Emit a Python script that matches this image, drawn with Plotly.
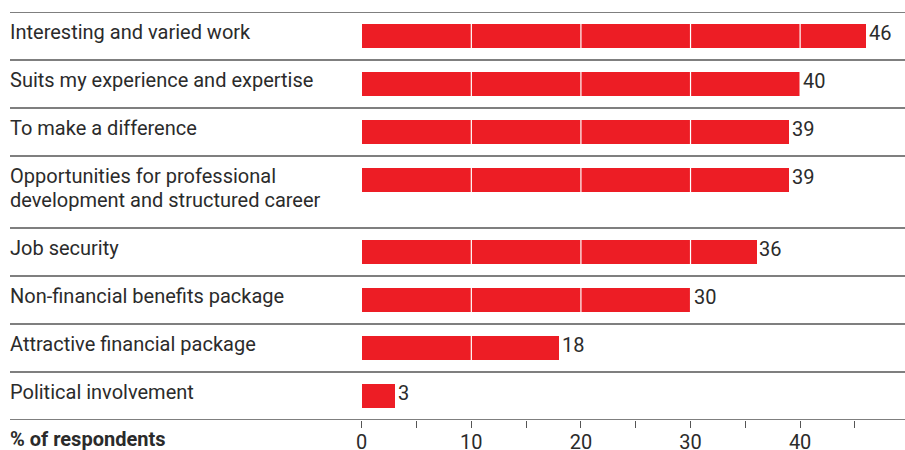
import plotly.graph_objects as go

# Survey answers, top to bottom
reasons = [
    "Interesting and varied work",
    "Suits my experience and expertise",
    "To make a difference",
    "Opportunities for professional<br>development and structured career",
    "Job security",
    "Non-financial benefits package",
    "Attractive financial package",
    "Political involvement",
]
percent = [46, 40, 39, 39, 36, 30, 18, 3]

tick_values = [0, 5, 10, 15, 20, 25, 30, 35, 40, 45]
tick_labels = ["0", "", "10", "", "20", "", "30", "", "40", ""]
grid_values = [10, 20, 30, 40]

RED = "#ed1d25"
INK = "#2b2b2b"
RULE = "#555555"
FONT = "Roboto"
SIZE = 20
LINE_STEP = 0.49  # spacing of wrapped label lines, in row units

# Row layout: each row is one unit tall, two-line labels get an extra half unit
row_tops = []
top = 0.0
for label in reasons:
    row_tops.append(top)
    top += 1.0 + 0.5 * label.count("<br>")
total_height = top
bar_centres = [t + 0.5 for t in row_tops]

fig = go.Figure()
fig.add_trace(go.Bar(
    x=percent,
    y=bar_centres,
    orientation="h",
    width=0.5,
    marker=dict(color=RED, line=dict(width=0)),
    hoverinfo="skip",
))

shapes = []
# white gridlines cutting through the bars
for g in grid_values:
    shapes.append(dict(type="line", xref="x", yref="paper", x0=g, x1=g, y0=0, y1=1,
                       line=dict(color="white", width=1.2), layer="above"))
# row separators running the full width
for t in row_tops + [total_height]:
    shapes.append(dict(type="line", xref="paper", yref="y", x0=0, x1=1, y0=t, y1=t,
                       line=dict(color=RULE, width=1.5), layer="above"))

annotations = []
for label, t in zip(reasons, row_tops):
    for i, line in enumerate(label.split("<br>")):
        annotations.append(dict(
            text=line, xref="paper", yref="y", x=0, y=t + 0.13 + i * LINE_STEP, xshift=-2,
            xanchor="left", yanchor="top", showarrow=False, align="left",
            font=dict(family=FONT, size=SIZE, color=INK),
        ))
# value labels just past the end of each bar
for v, c in zip(percent, bar_centres):
    annotations.append(dict(
        text=str(v), xref="x", yref="y", x=v, y=c - 0.06, xshift=1,
        xanchor="left", yanchor="middle", showarrow=False,
        font=dict(family=FONT, size=SIZE, color=INK),
    ))
annotations.append(dict(
    text="<b>% of respondents</b>", xref="paper", yref="paper", x=0, y=-0.047,
    xshift=-2, xanchor="left", yanchor="middle", showarrow=False,
    font=dict(family=FONT, size=SIZE, color=INK),
))

fig.update_layout(
    width=905, height=450,
    margin=dict(l=10, r=0, t=12, b=30, autoexpand=False),
    paper_bgcolor="white", plot_bgcolor="white",
    showlegend=False,
    bargap=0,
    shapes=shapes,
    annotations=annotations,
    xaxis=dict(
        domain=[0.393, 1], range=[0, 49.57], autorange=False, automargin=False,
        showgrid=False, zeroline=False, showline=False,
        tickmode="array", tickvals=tick_values, ticktext=tick_labels,
        ticks="outside", ticklen=7, tickwidth=1.2, tickcolor=RULE,
        ticklabelstandoff=-3,
        tickfont=dict(family=FONT, size=SIZE, color=INK),
    ),
    yaxis=dict(
        range=[total_height, 0], autorange=False, automargin=False,
        showgrid=False, zeroline=False, showline=False, showticklabels=False,
    ),
)

fig.write_html("out.html")
